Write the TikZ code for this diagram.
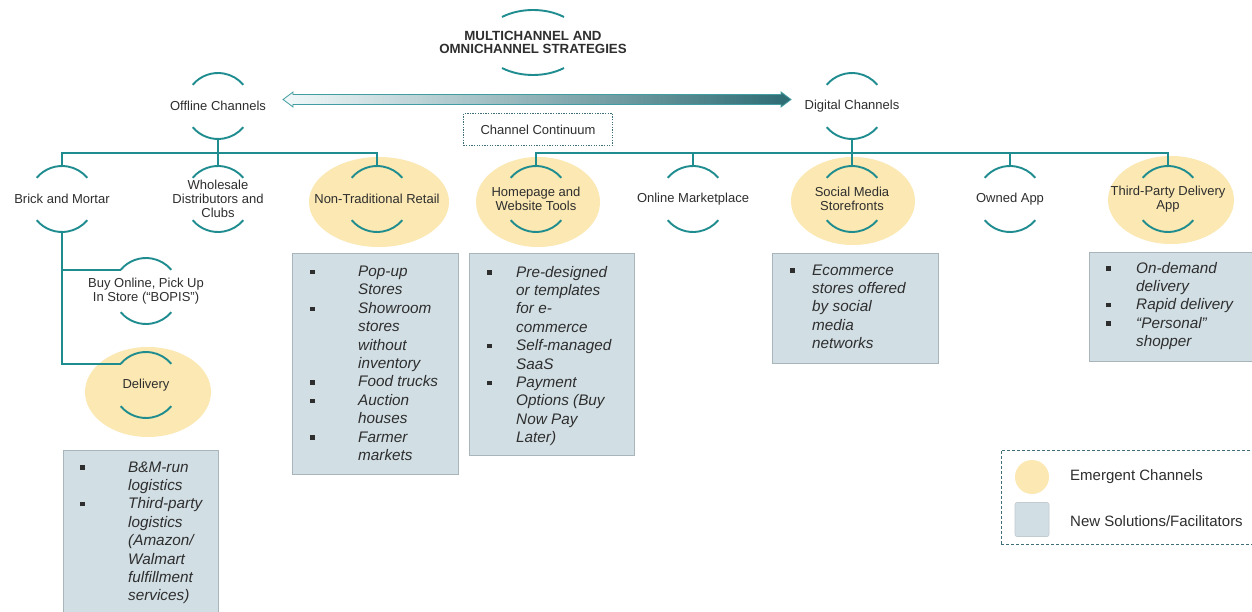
\documentclass[tikz,border=0pt]{standalone}
\usepackage{fontspec}
\setmainfont{Liberation Sans}
\usetikzlibrary{backgrounds,calc}
\definecolor{teal1}{HTML}{1F8C8F}
\definecolor{emerg}{HTML}{FBE8B2}
\definecolor{boxfill}{HTML}{D1DEE4}
\definecolor{boxline}{HTML}{A8B5BB}
\definecolor{arrdark}{HTML}{2C6B73}
\definecolor{arrmid}{HTML}{86C4CA}
\definecolor{arrlight}{HTML}{F2F9FA}
\definecolor{dotc}{HTML}{3F6F78}
\definecolor{txt}{HTML}{2E2E2E}
\newcommand{\bul}{\rule[2.4pt]{4.4pt}{4.4pt}}
\newcommand{\chan}[3]{%
  \node[ring] (#1) at (#2) {};
  \node[lbl] (#1-t) at (#1) {#3};
  \draw[arcline] (#1.140) arc[start angle=140,end angle=40,radius=33pt];
  \draw[arcline] (#1.220) arc[start angle=220,end angle=320,radius=33pt];}
\tikzset{
  ring/.style={circle, minimum size=66pt, inner sep=0pt, outer sep=0pt},
  lbl/.style={inner sep=0pt, align=center, font=\fontsize{13}{14}\selectfont, text=txt},
  arcline/.style={draw=teal1, line width=1.9pt},
  conn/.style={draw=teal1, line width=2pt},
  solbox/.style={fill=boxfill, draw=boxline, line width=0.8pt, anchor=north west, inner sep=0pt},
  blist/.style={anchor=north west, inner sep=0pt, font=\fontsize{15.3}{18.4}\selectfont\itshape, text=txt},
}
\begin{document}
\begin{tikzpicture}[x=1pt,y=1pt]
\useasboundingbox (0,0) rectangle (1252,-612);
\clip (0,0) rectangle (1252,-612);

% title
\coordinate (ttl) at (533,-42.5);
\node[inner sep=0pt, align=center, font=\bfseries\fontsize{13.3}{13.3}\selectfont, text=txt] (ttl-t) at (ttl) {MULTICHANNEL AND\\OMNICHANNEL STRATEGIES};
\draw[arcline] ($(ttl)+(128.3:50pt and 32.5pt)$) arc[start angle=128.3,end angle=51.7,x radius=50pt,y radius=32.5pt];
\draw[arcline] ($(ttl)+(231.7:50pt and 32.5pt)$) arc[start angle=231.7,end angle=308.3,x radius=50pt,y radius=32.5pt];

% channel nodes
\chan{off}{218,-106}{Offline Channels}
\chan{dig}{852,-106}{Digital Channels}
\chan{bm}{62,-199}{Brick and Mortar}
\chan{wh}{218,-199}{Wholesale\\Distributors and\\Clubs}
\chan{nt}{377,-199}{Non-Traditional Retail}
\chan{hp}{536,-199}{Homepage and\\Website Tools}
\chan{om}{693,-199}{Online Marketplace}
\chan{sm}{852,-199}{Social Media\\Storefronts}
\chan{oa}{1010,-199}{Owned App}
\chan{tp}{1168,-199}{Third-Party Delivery\\App}
\chan{bop}{146,-291}{Buy Online, Pick Up\\In Store (“BOPIS”)}
\chan{del}{146,-385}{Delivery}

% emergent channel highlights
\begin{scope}[on background layer]
  \fill[white] (0,0) rectangle (1252,-612);
  \fill[emerg] ($(nt)+(2,-3)$) ellipse[x radius=70pt, y radius=45pt];
  \fill[emerg] ($(hp)+(2,-3)$) ellipse[x radius=62pt, y radius=45pt];
  \fill[emerg] ($(sm)+(1,-2)$) ellipse[x radius=62pt, y radius=44pt];
  \fill[emerg] ($(tp)+(3,-1)$) ellipse[x radius=63pt, y radius=44pt];
  \fill[emerg] ($(del)+(2,-7)$) ellipse[x radius=63pt, y radius=45pt];
\end{scope}

% connectors
\coordinate (busL) at (218,-153);
\coordinate (busR) at (852,-153);
\draw[conn] (off.south) -- (wh.north);
\draw[conn] (bm.north) |- (busL) -| (nt.north);
\draw[conn] (dig.south) -- (sm.north);
\draw[conn] (hp.north) |- (busR) -| (tp.north);
\draw[conn] (om.north) -- (om.north |- busR);
\draw[conn] (oa.north) -- (oa.north |- busR);
\draw[conn] (bm.south) |- (bop.140);
\draw[conn] (bm.south) |- (del.140);

% continuum arrow
\coordinate (aL) at (283,-99.5);
\coordinate (aR) at (791,-99.5);
\shade[left color=arrlight, middle color=arrmid, right color=arrdark, draw=teal1!85, line width=0.8pt, line join=miter]
  (aL) -- ++(10,7.5) -- ++(0,-2.5) -- ($(aR)+(-10,5)$) -- ++(0,2.5) -- (aR)
  -- ++(-10,-7.5) -- ++(0,2.5) -- ($(aL)+(10,-5)$) -- ++(0,-2.5) -- cycle;
\node[draw=dotc, line width=1.3pt, dash pattern=on 1.3pt off 1.3pt, minimum width=149pt, minimum height=32pt, inner sep=0pt, font=\fontsize{13}{14}\selectfont, text=txt] (cc) at (538,-129.5) {Channel Continuum};

% solution boxes
\node[solbox, minimum width=166pt, minimum height=221pt] (ntb) at (292,-253) {};
\node[blist] (ntl) at (310,-263.5) {\begin{tabular}{@{}p{48pt}@{}l@{}}
\bul & Pop-up\\ & Stores\\ \bul & Showroom\\ & stores\\ & without\\ & inventory\\
\bul & Food trucks\\ \bul & Auction\\ & houses\\ \bul & Farmer\\ & markets\end{tabular}};

\node[solbox, minimum width=165pt, minimum height=202pt] (hpb) at (469,-253) {};
\node[blist] (hpl) at (487,-264) {\begin{tabular}{@{}p{29pt}@{}l@{}}
\bul & Pre-designed\\ & or templates\\ & for e-\\ & commerce\\ \bul & Self-managed\\ & SaaS\\
\bul & Payment\\ & Options (Buy\\ & Now Pay\\ & Later)\end{tabular}};

\node[solbox, minimum width=166pt, minimum height=110pt] (smb) at (772,-253) {};
\node[blist] (sml) at (790,-262) {\begin{tabular}{@{}p{22pt}@{}l@{}}
\bul & Ecommerce\\ & stores offered\\ & by social\\ & media\\ & networks\end{tabular}};

\node[solbox, minimum width=180pt, minimum height=109pt] (tpb) at (1089,-252) {};
\node[blist] (tpl) at (1106,-260) {\begin{tabular}{@{}p{30pt}@{}l@{}}
\bul & On-demand\\ & delivery\\ \bul & Rapid delivery\\ \bul & “Personal”\\ & shopper\end{tabular}};

\node[solbox, minimum width=155pt, minimum height=180pt] (dlb) at (63,-450) {};
\node[blist] (dll) at (80,-459) {\begin{tabular}{@{}p{48pt}@{}l@{}}
\bul & B\&M-run\\ & logistics\\ \bul & Third-party\\ & logistics\\ & (Amazon/\\ & Walmart\\ & fulfillment\\ & services)\end{tabular}};

% legend
\node[draw=dotc, line width=0.8pt, dash pattern=on 3pt off 2pt, anchor=north west, minimum width=270pt, minimum height=94pt, inner sep=0pt] (leg) at (1001,-450) {};
\node[circle, fill=emerg, minimum size=34pt, inner sep=0pt] (legc) at (1032,-477) {};
\node[anchor=west, inner sep=0pt, font=\fontsize{15}{17}\selectfont, text=txt] (legct) at (1070,-477) {Emergent Channels};
\node[fill=boxfill, draw=boxline!70, line width=0.6pt, rounded corners=2pt, minimum size=34pt, inner sep=0pt] (legs) at (1032,-519.5) {};
\node[anchor=west, inner sep=0pt, font=\fontsize{15}{17}\selectfont, text=txt] (legst) at (1070,-521) {New Solutions/Facilitators};
\end{tikzpicture}
\end{document}
